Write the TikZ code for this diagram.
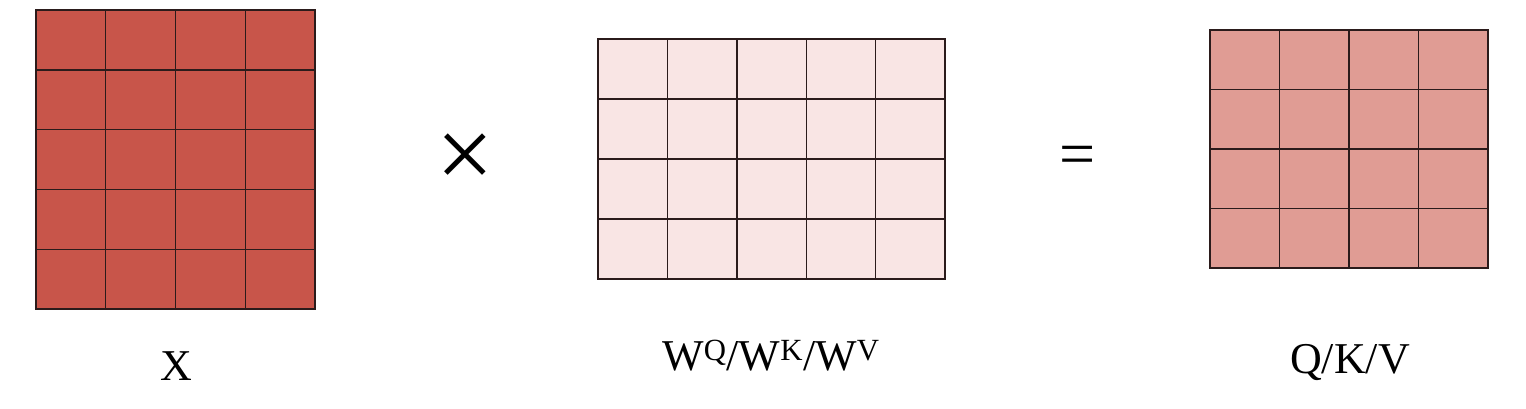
\documentclass[tikz,border=0pt]{standalone}
\usepackage{fontspec}
\setmainfont{Liberation Serif}
\definecolor{xred}{HTML}{C8554A}
\definecolor{wpink}{HTML}{F9E5E4}
\definecolor{qpink}{HTML}{E09C94}
\definecolor{gridline}{HTML}{2B1B1B}
\begin{document}
\begin{tikzpicture}[x=1pt,y=-1pt,
  matbox/.style={draw=gridline, line width=1.4pt, inner sep=0pt, outer sep=0pt, anchor=north west},
  gridln/.style={draw=gridline, line width=1.4pt},
  lbl/.style={font=\fontsize{44}{50}\selectfont, inner sep=0pt, anchor=base},
  op/.style={inner sep=0pt}]
\useasboundingbox (0,0) rectangle (1526,408);
% X matrix 5x4
\node[matbox, fill=xred, minimum width=279pt, minimum height=299pt] (X) at (36,10) {};
\foreach \i in {1,2,3} \draw[gridln] ([xshift=\i*69.75pt]X.north west) -- ([xshift=\i*69.75pt]X.south west);
\foreach \j in {1,...,4} \draw[gridln] ([yshift=-\j*59.8pt]X.north west) -- ([yshift=-\j*59.8pt]X.north east);
% W matrix 4x5
\node[matbox, fill=wpink, minimum width=347pt, minimum height=240pt] (W) at (598,39) {};
\foreach \i in {1,...,4} \draw[gridln] ([xshift=\i*69.4pt]W.north west) -- ([xshift=\i*69.4pt]W.south west);
\foreach \j in {1,2,3} \draw[gridln] ([yshift=-\j*60pt]W.north west) -- ([yshift=-\j*60pt]W.north east);
% Q matrix 4x4
\node[matbox, fill=qpink, minimum width=278pt, minimum height=238pt] (Q) at (1210,30) {};
\foreach \i in {1,2,3} \draw[gridln] ([xshift=\i*69.5pt]Q.north west) -- ([xshift=\i*69.5pt]Q.south west);
\foreach \j in {1,2,3} \draw[gridln] ([yshift=-\j*59.5pt]Q.north west) -- ([yshift=-\j*59.5pt]Q.north east);
% operators
\node[op, font=\fontsize{102}{104}\selectfont] (times) at (465,161) {×};
\node[op, font=\fontsize{64}{66}\selectfont] (eq) at (1078,161) {=};
% labels
\node[lbl] (lx) at (176,380) {X};
\node[lbl] (lw) at (771,370) {W\textsuperscript{Q}/W\textsuperscript{K}/W\textsuperscript{V}};
\node[lbl] (lq) at (1350,373) {Q/K/V};
\end{tikzpicture}
\end{document}
